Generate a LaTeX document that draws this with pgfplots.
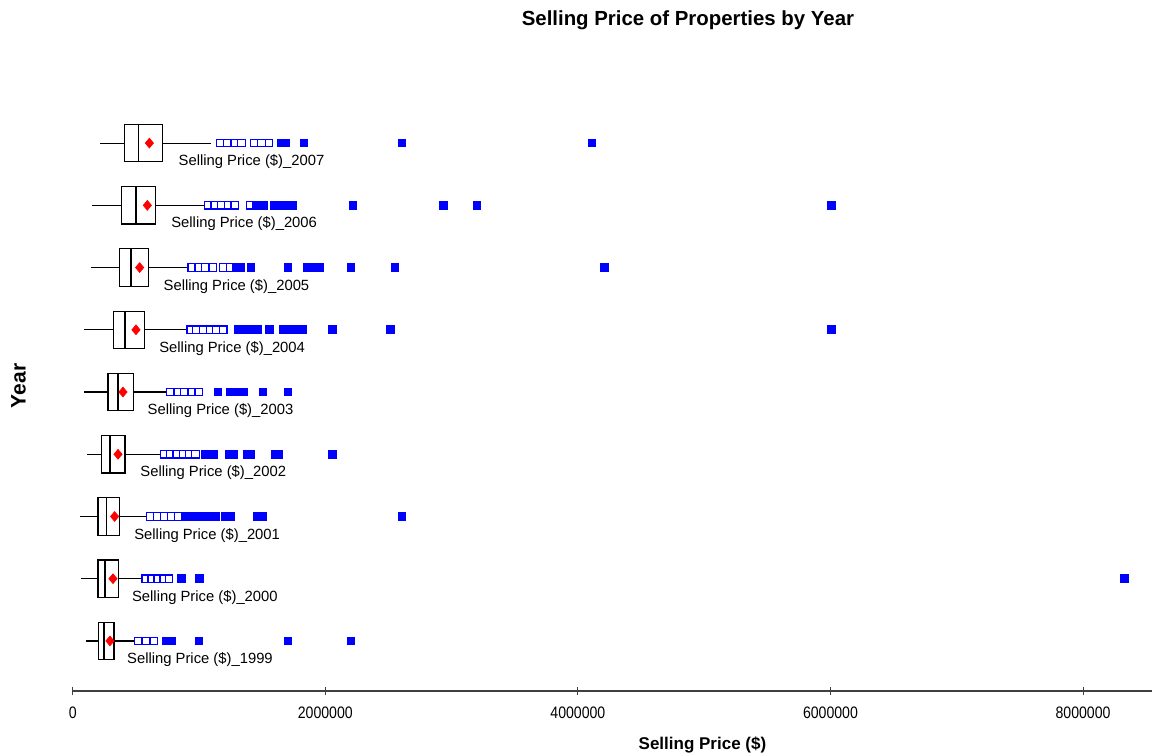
\documentclass[border=0pt]{standalone}
\usepackage{pgfplots}
\pgfplotsset{compat=1.18}
\usepgfplotslibrary{statistics}
\usepackage{fontspec}
\setmainfont{Liberation Sans}
\newfontfamily\tickfont[FakeStretch=0.85]{Liberation Sans}
\definecolor{outblue}{RGB}{0,0,255}
\definecolor{meanred}{RGB}{255,0,0}
\begin{document}
\begin{tikzpicture}
\begin{axis}[
  at={(0,0)}, anchor=south west,
  scale only axis, width=539.65pt, height=305pt,
  xmin=0, xmax=8546000, ymin=0.197, ymax=10,
  axis x line*=bottom, axis y line=none,
  x axis line style={-, black!75, line width=0.7pt},
  xtick={0,2000000,4000000,6000000,8000000},
  xticklabels={0,2000000,4000000,6000000,8000000},
  scaled x ticks=false,
  tick align=center, major tick length=4pt,
  xtick style={black!75, line width=0.5pt},
  xticklabel style={font=\tickfont\fontsize{8.3}{9}\selectfont, anchor=base, yshift=-11.9pt},
  clip=false,
  boxplot/draw direction=x,
]
% boxes: lower whisker, lower quartile, median, upper quartile, upper whisker
\addplot[black, line width=0.6pt, boxplot prepared={lower whisker=214000, lower quartile=411000, median=522000, upper quartile=710000, upper whisker=1092000, draw position=9, box extend=0.6, whisker extend=0}] coordinates {};
\addplot[black, line width=0.6pt, boxplot prepared={lower whisker=156000, lower quartile=388000, median=501000, upper quartile=657000, upper whisker=1045000, draw position=8, box extend=0.6, whisker extend=0}] coordinates {};
\addplot[black, line width=0.6pt, boxplot prepared={lower whisker=148000, lower quartile=369000, median=462000, upper quartile=599000, upper whisker=915000, draw position=7, box extend=0.6, whisker extend=0}] coordinates {};
\addplot[black, line width=0.6pt, boxplot prepared={lower whisker=90000, lower quartile=322000, median=414000, upper quartile=567000, upper whisker=907000, draw position=6, box extend=0.6, whisker extend=0}] coordinates {};
\addplot[black, line width=0.6pt, boxplot prepared={lower whisker=90000, lower quartile=280000, median=359000, upper quartile=480000, upper whisker=749000, draw position=5, box extend=0.6, whisker extend=0}] coordinates {};
\addplot[black, line width=0.6pt, boxplot prepared={lower whisker=116000, lower quartile=227000, median=295000, upper quartile=414000, upper whisker=696000, draw position=4, box extend=0.6, whisker extend=0}] coordinates {};
\addplot[black, line width=0.6pt, boxplot prepared={lower whisker=58000, lower quartile=200000, median=269000, upper quartile=372000, upper whisker=586000, draw position=3, box extend=0.6, whisker extend=0}] coordinates {};
\addplot[black, line width=0.6pt, boxplot prepared={lower whisker=69000, lower quartile=200000, median=256000, upper quartile=361000, upper whisker=551000, draw position=2, box extend=0.6, whisker extend=0}] coordinates {};
\addplot[black, line width=0.6pt, boxplot prepared={lower whisker=103000, lower quartile=203000, median=248000, upper quartile=327000, upper whisker=485000, draw position=1, box extend=0.6, whisker extend=0}] coordinates {};
% mild outliers (hollow)
\addplot[only marks, mark=square*, mark size=1.85pt, mark options={draw=outblue, fill=white, line width=0.6pt}] coordinates {
(1171000,9) (1224000,9) (1282000,9) (1337000,9) (1438000,9) (1495000,9) (1553000,9)
(1071000,8) (1124000,8) (1177000,8) (1229000,8) (1282000,8) (1406000,8)
(942000,7) (997000,7) (1052000,7) (1108000,7) (1192000,7) (1245000,7)
(934000,6) (981000,6) (1034000,6) (1087000,6) (1139000,6) (1192000,6)
(775000,5) (831000,5) (886000,5) (942000,5) (997000,5)
(723000,4) (773000,4) (823000,4) (873000,4) (923000,4) (973000,4)
(612000,3) (667000,3) (723000,3) (778000,3) (833000,3)
(578000,2) (625000,2) (673000,2) (720000,2) (762000,2)
(517000,1) (580000,1) (643000,1)
};
% extreme outliers (filled)
\addplot[only marks, mark=square*, mark size=1.85pt, mark options={draw=outblue, fill=outblue, line width=0.6pt}] coordinates {
(1651000,9) (1686000,9) (1833000,9) (2607000,9) (4112000,9)
(1456000,8) (1509000,8) (1598000,8) (1651000,8) (1704000,8) (1743000,8) (2218000,8) (2937000,8) (3201000,8) (6008000,8)
(1298000,7) (1329000,7) (1411000,7) (1704000,7) (1857000,7) (1904000,7) (1957000,7) (2205000,7) (2553000,7) (4209000,7)
(1308000,6) (1361000,6) (1414000,6) (1467000,6) (1559000,6) (1665000,6) (1725000,6) (1786000,6) (1822000,6) (2055000,6) (2514000,6) (6008000,6)
(1150000,5) (1250000,5) (1303000,5) (1351000,5) (1506000,5) (1704000,5)
(1052000,4) (1113000,4) (1240000,4) (1272000,4) (1382000,4) (1408000,4) (1604000,4) (1635000,4) (2055000,4)
(894000,3) (947000,3) (1000000,3) (1058000,3) (1132000,3) (1208000,3) (1253000,3) (1461000,3) (1503000,3) (2607000,3)
(860000,2) (1003000,2) (8326000,2)
(744000,1) (786000,1) (1000000,1) (1704000,1) (2205000,1)
};
% means
\addplot[only marks, mark=diamond*, mark size=2.4pt, mark options={xscale=1.12}, color=meanred] coordinates {
(607000,9) (591000,8) (530000,7) (501000,6) (398000,5) (359000,4) (332000,3) (319000,2) (295000,1)
};
% group labels
\begin{scope}[every node/.style={anchor=west, inner sep=0pt, font=\fontsize{7.4}{9}\selectfont, yshift=-9.35pt}]
\node at (axis cs:836000,9) {Selling Price (\$)\_2007};
\node at (axis cs:778000,8) {Selling Price (\$)\_2006};
\node at (axis cs:717000,7) {Selling Price (\$)\_2005};
\node at (axis cs:683000,6) {Selling Price (\$)\_2004};
\node at (axis cs:591000,5) {Selling Price (\$)\_2003};
\node at (axis cs:533000,4) {Selling Price (\$)\_2002};
\node at (axis cs:485000,3) {Selling Price (\$)\_2001};
\node at (axis cs:467000,2) {Selling Price (\$)\_2000};
\node at (axis cs:428000,1) {Selling Price (\$)\_1999};
\end{scope}
\node[anchor=base, font=\bfseries\fontsize{10.2}{12}\selectfont, yshift=27.5pt] at (rel axis cs:0.570,1) {Selling Price of Properties by Year};
\node[anchor=base, font=\bfseries\fontsize{8.5}{10}\selectfont, yshift=-29.15pt] at (rel axis cs:0.5835,0) {Selling Price (\$)};
\node[xshift=-27.1pt, rotate=90, anchor=center, font=\bfseries\fontsize{10.5}{12}\selectfont] at (rel axis cs:0,0.5) {Year};
\end{axis}
\pgfresetboundingbox
\path[use as bounding box] (-36.35pt,-32.5pt) rectangle (539.65pt,345.45pt);
\end{tikzpicture}
\end{document}
